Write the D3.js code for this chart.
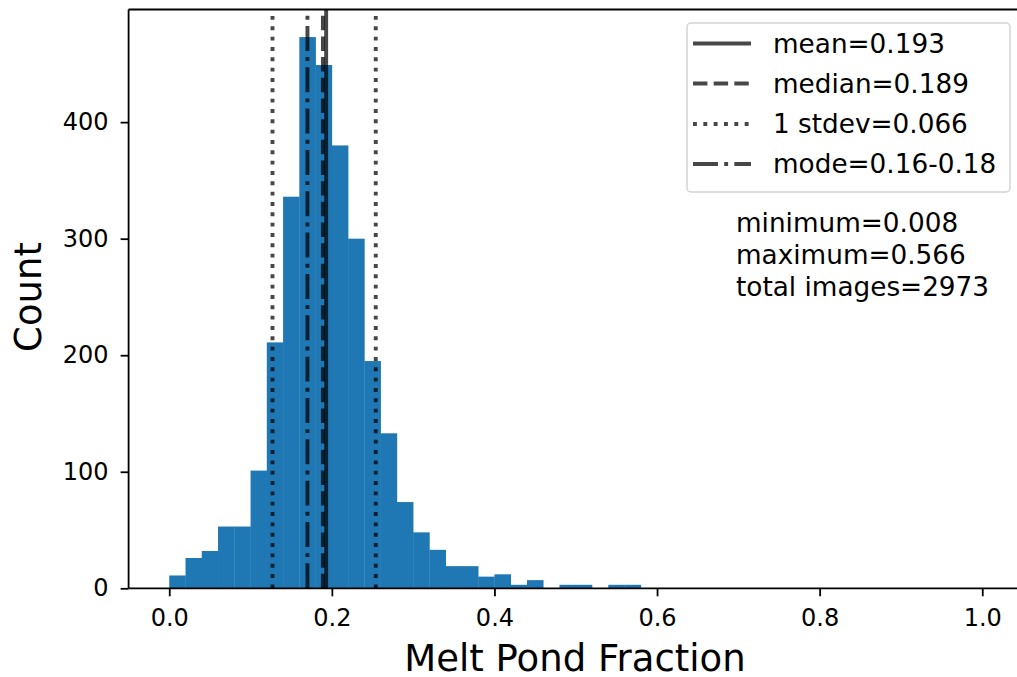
<!DOCTYPE html>
<html lang="en">
<head>
    <meta charset="UTF-8">
    <title>Melt Pond Fraction Histogram</title>
    <script src="https://d3js.org/d3.v7.min.js"></script>
    <style>
        body { margin: 0; background: #fff; }
        text { font-family: "DejaVu Sans", sans-serif; fill: #000; }
    </style>
</head>
<body>
    <svg id="chart" width="1017" height="677"></svg>
    <script>
        // Histogram bins (width 0.02, starting at 0.0)
        const binWidth = 0.02;
        const counts = [11, 26, 32, 53, 53, 101, 211, 336, 473, 449, 380, 300, 195, 133,
                        74, 48, 33, 19, 19, 10, 12, 3, 7, 0, 3, 3, 0, 3, 3];

        // Reference lines
        const refLines = [
            { label: "mean=0.193",       value: 0.193, dash: null },
            { label: "median=0.189",     value: 0.189, dash: "dashed" },
            { label: "1 stdev=0.066",    values: [0.127, 0.254], dash: "dotted" },
            { label: "mode=0.16-0.18",   value: 0.17,  dash: "dashdot" }
        ];
        const statsText = ["minimum=0.008", "maximum=0.566", "total images=2973"];

        const xTicks = [0, 0.2, 0.4, 0.6, 0.8, 1.0];
        const yTicks = [0, 100, 200, 300, 400];

        const lw = 3.9;
        const dashes = {
            dashed: [3.7 * lw, 1.6 * lw].join(","),
            dotted: [1 * lw, 1.65 * lw].join(","),
            dashdot: [6.4 * lw, 1.6 * lw, 1 * lw, 1.6 * lw].join(",")
        };

        const svg = d3.select("#chart");

        const plotLeft = 128.6, plotTop = 9.5, plotBottom = 588.3;
        const x = d3.scaleLinear().domain([-0.05, 1.05]).range([plotLeft, plotLeft + 1.1 * 813]);
        const y = d3.scaleLinear().domain([0, d3.max(counts) * 1.05]).range([plotBottom, plotTop]);

        // bars
        svg.append("g").selectAll("rect")
            .data(counts)
            .join("rect")
            .attr("x", (d, i) => x(i * binWidth))
            .attr("width", (d, i) => x((i + 1) * binWidth) - x(i * binWidth) + 0.3)
            .attr("y", d => y(d))
            .attr("height", d => y(0) - y(d))
            .attr("fill", "#1f77b4");

        // vertical reference lines
        const lineG = svg.append("g");
        refLines.forEach(r => {
            const vals = r.values || [r.value];
            vals.forEach(v => {
                lineG.append("line")
                    .attr("x1", x(v)).attr("x2", x(v))
                    .attr("y1", plotBottom).attr("y2", plotTop)
                    .attr("stroke", "#000")
                    .attr("stroke-opacity", 0.72)
                    .attr("stroke-width", lw)
                    .attr("stroke-dasharray", r.dash ? dashes[r.dash] : null);
            });
        });

        // axes
        const xAxis = svg.append("g")
            .attr("transform", `translate(0,${plotBottom})`)
            .call(d3.axisBottom(x).tickValues(xTicks).tickFormat(d3.format(".1f")).tickSizeOuter(0).tickSize(8).tickPadding(13));
        const yAxis = svg.append("g")
            .attr("transform", `translate(${plotLeft},0)`)
            .call(d3.axisLeft(y).tickValues(yTicks).tickSizeOuter(0).tickSize(8).tickPadding(12));

        [xAxis, yAxis].forEach(a => {
            a.select(".domain").attr("stroke", "#000").attr("stroke-width", 1.8);
            a.selectAll(".tick line").attr("stroke", "#000").attr("stroke-width", 1.8);
            a.selectAll(".tick text").attr("font-size", 24).attr("fill", "#000")
                .style("font-family", "DejaVu Sans");
        });
        xAxis.select(".domain").attr("d", `M${plotLeft},0H1030`);
        yAxis.select(".domain").attr("d", `M0,${plotBottom}V${plotTop}`);

        // top spine
        svg.append("line")
            .attr("x1", plotLeft).attr("x2", 1030)
            .attr("y1", plotTop).attr("y2", plotTop)
            .attr("stroke", "#000").attr("stroke-width", 1.8);

        // axis labels
        svg.append("text")
            .attr("x", 575).attr("y", 671)
            .attr("text-anchor", "middle")
            .attr("font-size", 37)
            .text("Melt Pond Fraction");
        svg.append("text")
            .attr("transform", "translate(41,297) rotate(-90)")
            .attr("text-anchor", "middle")
            .attr("font-size", 37)
            .text("Count");

        // legend
        const legend = svg.append("g");
        legend.append("rect")
            .attr("x", 687).attr("y", 23)
            .attr("width", 323).attr("height", 169)
            .attr("rx", 4)
            .attr("fill", "#fff").attr("fill-opacity", 0.8)
            .attr("stroke", "#d3d3d3").attr("stroke-width", 1.5);
        const rowY = [43.5, 83.5, 124, 164];
        refLines.forEach((r, i) => {
            legend.append("line")
                .attr("x1", 693).attr("x2", 751)
                .attr("y1", rowY[i]).attr("y2", rowY[i])
                .attr("stroke", "#000").attr("stroke-opacity", 0.72)
                .attr("stroke-width", lw)
                .attr("stroke-dasharray", r.dash ? dashes[r.dash] : null);
            legend.append("text")
                .attr("x", 773).attr("y", rowY[i])
                .attr("dy", "0.36em")
                .attr("font-size", 26.3)
                .text(r.label);
        });

        // stats annotation
        svg.append("g").selectAll("text")
            .data(statsText)
            .join("text")
            .attr("x", 736)
            .attr("y", (d, i) => 223 + i * 32)
            .attr("dy", "0.36em")
            .attr("font-size", 26.3)
            .text(d => d);
    </script>
</body>
</html>
